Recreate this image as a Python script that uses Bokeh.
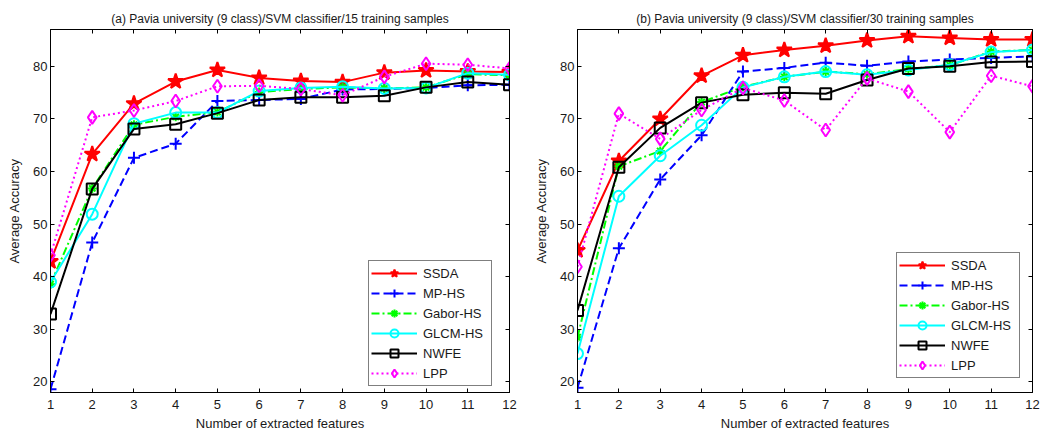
from bokeh.plotting import figure
from bokeh.layouts import row
from bokeh.models import LinearAxis, FixedTicker, Range1d
from bokeh.embed import file_html
from bokeh.resources import INLINE

features = list(range(1, 13))
methods = ["SSDA", "MP-HS", "Gabor-HS", "GLCM-HS", "NWFE", "LPP"]
titles = ["(a) Pavia university (9 class)/SVM classifier/15 training samples",
          "(b) Pavia university (9 class)/SVM classifier/30 training samples"]
x_label = "Number of extracted features"
y_label = "Average Accuracy"
y_ticks = [20, 30, 40, 50, 60, 70, 80]

# 15 training samples
ssda_15 = [42.9, 63.3, 72.9, 77.1, 79.3, 77.8, 77.2, 77.0, 78.8, 79.2, 79.0, 78.9]
mphs_15 = [18.6, 46.5, 62.6, 65.3, 73.4, 73.6, 73.8, 75.6, 75.7, 75.9, 76.4, 76.5]
gabor_15 = [38.6, 56.8, 68.9, 70.4, 71.3, 75.1, 75.7, 76.0, 75.8, 76.0, 78.5, 78.3]
glcm_15 = [39.0, 51.9, 69.1, 71.2, 71.2, 75.3, 75.9, 76.1, 75.8, 75.9, 78.7, 78.4]
nwfe_15 = [32.9, 56.7, 68.1, 69.0, 71.1, 73.6, 74.1, 74.1, 74.4, 76.0, 77.0, 76.5]
lpp_15 = [44.1, 70.3, 71.6, 73.4, 76.2, 76.3, 75.7, 74.5, 78.0, 80.5, 80.3, 79.6]

# 30 training samples
ssda_30 = [45.0, 62.0, 70.0, 78.2, 82.1, 83.1, 83.9, 84.9, 85.7, 85.4, 85.1, 85.1]
mphs_30 = [18.9, 45.4, 58.5, 66.9, 79.0, 79.7, 80.7, 80.1, 80.9, 81.3, 81.6, 81.9]
gabor_30 = [28.5, 61.0, 63.9, 73.2, 76.1, 78.0, 79.0, 78.5, 79.5, 80.2, 82.8, 83.1]
glcm_30 = [25.4, 55.3, 63.0, 68.8, 76.0, 78.0, 79.0, 78.4, 79.3, 80.3, 82.7, 83.1]
nwfe_30 = [33.6, 60.8, 68.3, 73.1, 74.6, 75.0, 74.8, 77.4, 79.6, 80.0, 80.8, 80.9]
lpp_30 = [41.9, 71.0, 66.2, 71.7, 75.9, 73.5, 67.9, 77.7, 75.2, 67.5, 78.2, 76.2]

styles = [
    dict(color="#FF0000", dash="solid", marker="star", size=16, fill=True),
    dict(color="#0000FF", dash="8 4", marker="cross", size=12, fill=False),
    dict(color="#00FF00", dash="8 3 2 3", marker="asterisk", size=9, fill=False),
    dict(color="#00FFFF", dash="solid", marker="circle", size=11, fill=False),
    dict(color="#000000", dash="solid", marker="square", size=11, fill=False),
    dict(color="#FF00FF", dash="2 3", marker="diamond", size=13, fill=False),
]

FONT = "Liberation Sans"
TXT = "#1a1a1a"


def style_axis(ax):
    ax.major_tick_in = 4
    ax.major_tick_out = 0
    ax.minor_tick_in = 0
    ax.minor_tick_out = 0
    ax.axis_line_color = "black"
    ax.major_tick_line_color = "black"
    ax.major_label_text_font = FONT
    ax.major_label_text_font_size = "13px"
    ax.major_label_text_color = TXT
    ax.axis_label_text_font = FONT
    ax.axis_label_text_font_size = "13px"
    ax.axis_label_text_font_style = "normal"
    ax.axis_label_text_color = TXT


def make_fig(title, series, width, border_right, legend_loc):
    p = figure(width=width, height=433, x_range=Range1d(1, 12), y_range=Range1d(18, 87),
               output_backend="svg", toolbar_location=None,
               min_border_left=50, min_border_right=border_right,
               min_border_top=29, min_border_bottom=40)
    p.title.text = title
    p.title.align = "center"
    p.title.text_font = FONT
    p.title.text_font_size = "12px"
    p.title.text_font_style = "normal"
    p.title.text_color = TXT
    p.title.standoff = 8
    p.grid.visible = False
    p.outline_line_color = "black"
    p.outline_line_width = 1

    bottom = p.below[0]
    left = p.left[0]
    top = LinearAxis(ticker=FixedTicker(ticks=features))
    rgt = LinearAxis(ticker=FixedTicker(ticks=y_ticks))
    bottom.ticker = FixedTicker(ticks=features)
    left.ticker = FixedTicker(ticks=y_ticks)
    for ax in [bottom, left, top, rgt]:
        style_axis(ax)
    for ax in [top, rgt]:
        ax.major_label_text_font_size = "1px"
        ax.major_label_text_color = None
        ax.major_label_standoff = 0
    p.add_layout(top, "above")
    p.add_layout(rgt, "right")

    bottom.axis_label = x_label
    bottom.major_label_standoff = 7
    bottom.axis_label_standoff = 4
    left.axis_label = y_label
    left.major_label_standoff = 3
    left.axis_label_standoff = 8

    for name, ys, st in zip(methods, series, styles):
        p.line(features, ys, line_color=st["color"], line_width=2, line_dash=st["dash"],
               legend_label=name)
        p.scatter(features, ys, marker=st["marker"], size=st["size"],
                  line_color=st["color"], line_width=2,
                  fill_color=st["color"] if st["fill"] else None,
                  legend_label=name)

    lg = p.legend[0]
    lg.location = legend_loc
    lg.border_line_color = "black"
    lg.border_line_width = 1
    lg.background_fill_color = "white"
    lg.background_fill_alpha = 1
    lg.padding = 2
    lg.spacing = 0
    lg.margin = 0
    lg.glyph_width = 46
    lg.glyph_height = 20
    lg.label_height = 20
    lg.label_width = 66
    lg.label_standoff = 6
    lg.label_text_font = FONT
    lg.label_text_font_size = "13px"
    lg.label_text_color = TXT
    return p


p1 = make_fig(titles[0], [ssda_15, mphs_15, gabor_15, glcm_15, nwfe_15, lpp_15], 527, 18, (318, 6))
p2 = make_fig(titles[1], [ssda_30, mphs_30, gabor_30, glcm_30, nwfe_30, lpp_30], 514, 9, (319, 14))

layout = row(p1, p2, spacing=0)
open("out.html", "w").write(file_html(layout, INLINE))
